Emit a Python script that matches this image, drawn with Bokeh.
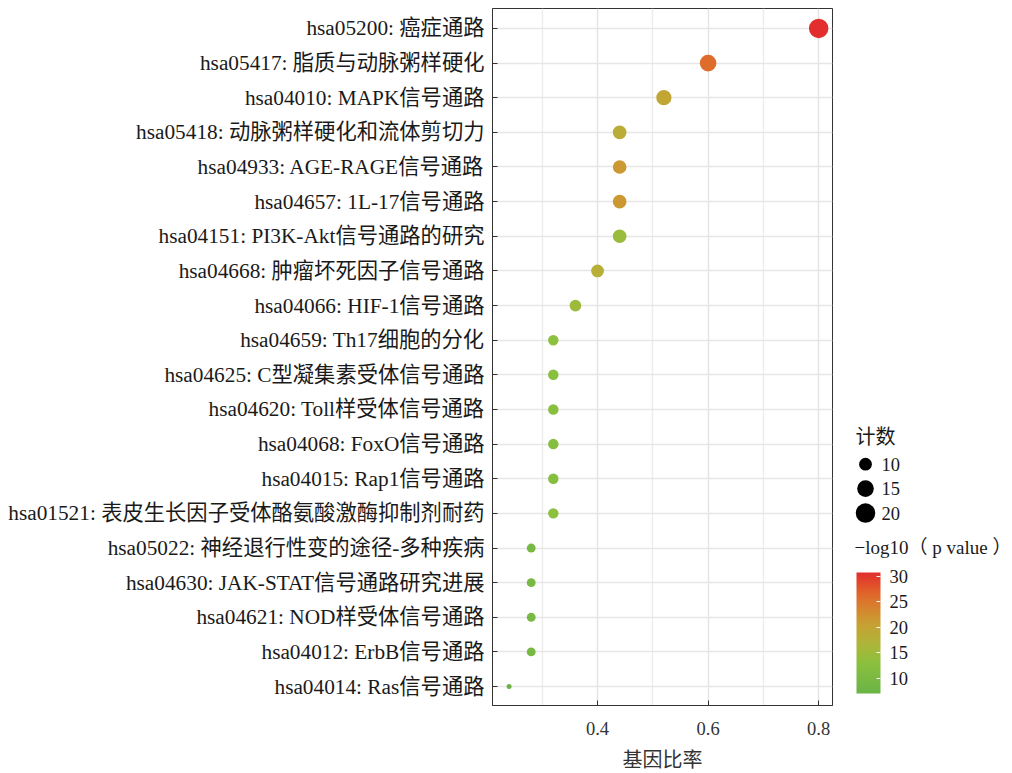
import numpy as np
from bokeh.plotting import figure
from bokeh.models import (ColumnDataSource, LinearColorMapper, ColorBar, FixedTicker,
                          Range1d, Row)
from bokeh.embed import file_html
from bokeh.resources import INLINE
from bokeh.core.properties import value

# ---------------- data (top row first) ----------------
pathways = [
    "hsa05200: 癌症通路",
    "hsa05417: 脂质与动脉粥样硬化",
    "hsa04010: MAPK信号通路",
    "hsa05418: 动脉粥样硬化和流体剪切力",
    "hsa04933: AGE-RAGE信号通路",
    "hsa04657: 1L-17信号通路",
    "hsa04151: PI3K-Akt信号通路的研究",
    "hsa04668: 肿瘤坏死因子信号通路",
    "hsa04066: HIF-1信号通路",
    "hsa04659: Th17细胞的分化",
    "hsa04625: C型凝集素受体信号通路",
    "hsa04620: Toll样受体信号通路",
    "hsa04068: FoxO信号通路",
    "hsa04015: Rap1信号通路",
    "hsa01521: 表皮生长因子受体酪氨酸激酶抑制剂耐药",
    "hsa05022: 神经退行性变的途径-多种疾病",
    "hsa04630: JAK-STAT信号通路研究进展",
    "hsa04621: NOD样受体信号通路",
    "hsa04012: ErbB信号通路",
    "hsa04014: Ras信号通路",
]
gene_ratio = [0.80, 0.60, 0.52, 0.44, 0.44, 0.44, 0.44, 0.40, 0.36, 0.32,
              0.32, 0.32, 0.32, 0.32, 0.32, 0.28, 0.28, 0.28, 0.28, 0.24]
counts = [20, 15, 13, 11, 11, 11, 11, 10, 9, 8,
          8, 8, 8, 8, 8, 7, 7, 7, 7, 6]
neg_log10_p = [30.8, 26.0, 19.8, 18.5, 21.5, 21.5, 14.5, 18.0, 15.0, 13.0,
               12.5, 12.5, 12.0, 12.0, 13.0, 9.5, 9.5, 9.5, 9.5, 7.0]
x_ticks = [0.4, 0.6, 0.8]
x_minor = [0.3, 0.5, 0.7]
legend_counts = [10, 15, 20]
cbar_ticks = [10, 15, 20, 25, 30]
cbar_low, cbar_high = 7.0, 30.8

SERIF = "'Liberation Serif', 'Noto Sans CJK SC', serif"
TXT = "#1a1a1a"

# ggplot-like area scale: diameter linear in sqrt of rescaled count
CMIN, CMAX = min(counts), max(counts)
DMIN, DMAX = 5.0, 19.5
def size_of(c):
    c = np.asarray(c, dtype=float)
    return DMIN + (DMAX - DMIN) * np.sqrt((c - CMIN) / (CMAX - CMIN))

# palette green -> olive -> orange -> red
stops = [(0.0, (106, 180, 70)), (0.25, (140, 192, 62)), (0.42, (176, 180, 56)),
         (0.55, (196, 164, 52)), (0.68, (212, 138, 46)), (0.83, (224, 100, 42)),
         (1.0, (226, 46, 44))]
palette = []
for k in range(256):
    t = k / 255
    for (a, ca), (b, cb) in zip(stops[:-1], stops[1:]):
        if a <= t <= b:
            f = (t - a) / (b - a)
            rgb = [int(round(ca[j] + (cb[j] - ca[j]) * f)) for j in range(3)]
            palette.append("#%02x%02x%02x" % tuple(rgb))
            break
mapper = LinearColorMapper(palette=palette, low=cbar_low, high=cbar_high)

n = len(pathways)
ypos = [n - i for i in range(n)]
src = ColumnDataSource(dict(x=gene_ratio, y=ypos, size=size_of(counts),
                            logp=neg_log10_p, name=pathways))

H = 773
TOP, BOTTOM = 8, 66
p = figure(width=834, height=H, output_backend="svg", toolbar_location=None,
           x_range=Range1d(0.21, 0.825), y_range=Range1d(0.453, 20.576),
           min_border_left=492, min_border_right=2, min_border_top=TOP,
           min_border_bottom=BOTTOM)
p.background_fill_color = "white"
p.border_fill_color = "white"
p.outline_line_color = "#333333"
p.outline_line_width = 1

p.scatter(x="x", y="y", size="size", source=src, line_color=None,
          fill_color={"field": "logp", "transform": mapper})

# axes
xa = p.xaxis[0]
xa.ticker = FixedTicker(ticks=x_ticks, minor_ticks=x_minor)
xa.axis_label = "基因比率"
xa.axis_label_text_font = SERIF
xa.axis_label_text_font_style = "normal"
xa.axis_label_text_font_size = "20px"
xa.axis_label_text_color = "#333333"
xa.axis_label_standoff = 11
xa.major_label_text_font = SERIF
xa.major_label_text_font_size = "18.5px"
xa.major_label_text_color = "#333333"
xa.major_label_standoff = 12
xa.major_tick_in = 5
xa.major_tick_out = 0
xa.minor_tick_line_color = None
xa.major_tick_line_color = "#333333"
xa.axis_line_color = "#333333"

ya = p.yaxis[0]
ya.ticker = FixedTicker(ticks=ypos)
ya.major_label_overrides = {y: nm for y, nm in zip(ypos, pathways)}
ya.major_label_text_font = SERIF
ya.major_label_text_font_size = "21.3px"
ya.major_label_text_color = TXT
ya.major_label_standoff = 8
ya.major_tick_in = 5
ya.major_tick_out = 0
ya.minor_tick_line_color = None
ya.major_tick_line_color = "#333333"
ya.axis_line_color = "#333333"

p.xgrid.grid_line_color = "#e3e3e3"
p.xgrid.grid_line_width = 1.4
p.xgrid.minor_grid_line_color = "#ececec"
p.xgrid.minor_grid_line_width = 1.4
p.ygrid.grid_line_color = "#e6e6e6"
p.ygrid.grid_line_width = 1.4

# ---------------- legend panel ----------------
# The row aligns this panel's frame with the main frame, so its y range is set
# in page pixels of that frame (top -> bottom).
W2 = 1012 - 834
q = figure(width=W2, height=H, output_backend="svg", toolbar_location=None,
           x_range=Range1d(0, W2), y_range=Range1d(H - BOTTOM, TOP),
           min_border_left=0, min_border_right=0, min_border_top=TOP,
           min_border_bottom=BOTTOM, x_axis_type=None, y_axis_type=None)
q.outline_line_color = None
q.grid.visible = False
q.background_fill_color = "white"
q.border_fill_color = "white"

q.text(x=[21], y=[438], text=["计数"], text_font=value(SERIF),
       text_font_size="20px", text_baseline="middle", text_color=TXT)
leg_y = [465 + 24.5 * i for i in range(len(legend_counts))]
q.scatter(x=[31] * len(legend_counts), y=leg_y, size=size_of(legend_counts),
          fill_color="black", line_color=None)
q.text(x=[47] * len(legend_counts), y=leg_y, text=[str(c) for c in legend_counts],
       text_font=value(SERIF), text_font_size="18.5px", text_baseline="middle",
       text_color=TXT)
q.text(x=[20], y=[549], text=["−log10（ p value ）"], text_font=value(SERIF),
       text_font_size="19px", text_baseline="middle", text_color=TXT)

cb = ColorBar(color_mapper=mapper, ticker=FixedTicker(ticks=cbar_ticks),
              width=24, height=121, location=(22, 12), padding=0, margin=0,
              orientation="vertical", label_standoff=9,
              major_label_text_font=SERIF, major_label_text_font_size="18.5px",
              major_label_text_color=TXT, major_tick_line_color="white",
              major_tick_in=4, bar_line_color=None, border_line_color=None,
              background_fill_color=None, title=None)
q.add_layout(cb, "center")

layout = Row(children=[p, q], spacing=0)
open("out.html", "w").write(file_html(layout, INLINE))
